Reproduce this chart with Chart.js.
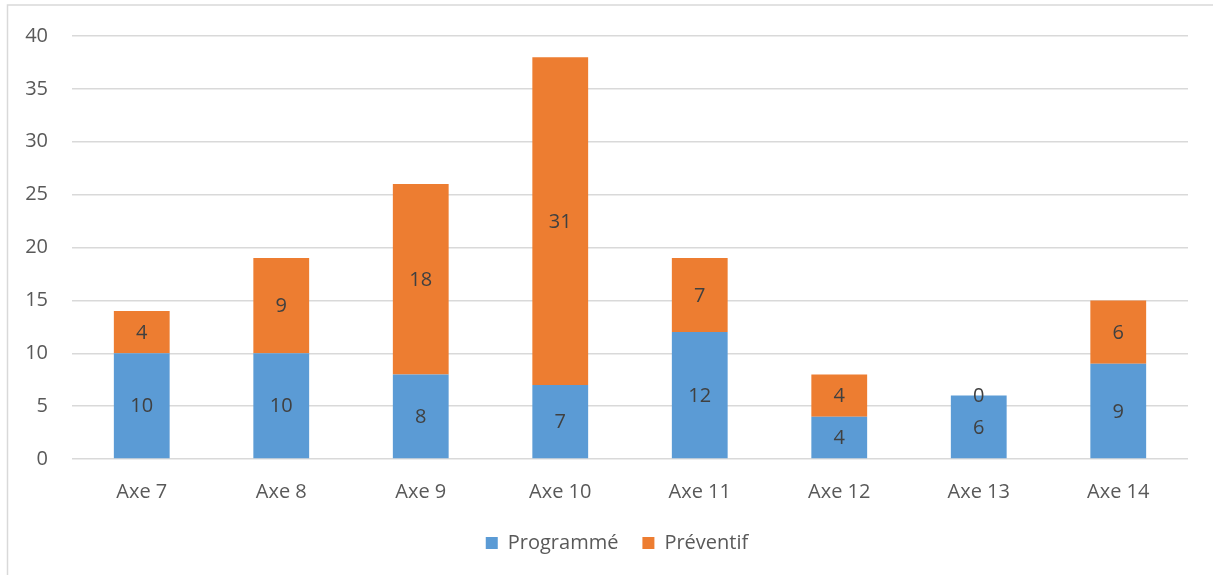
<!DOCTYPE html>
<html>
<head>
<meta charset="utf-8">
<script src="https://cdn.jsdelivr.net/npm/chart.js@4.4.0/dist/chart.umd.min.js"></script>
<style>
  html, body { margin: 0; padding: 0; background: #fff; }
  #wrap { width: 1213px; height: 575px; position: relative; }
</style>
</head>
<body>
<div id="wrap"><canvas id="myChart" width="1213" height="575"></canvas></div>
<script>
var labels = ['Axe 7', 'Axe 8', 'Axe 9', 'Axe 10', 'Axe 11', 'Axe 12', 'Axe 13', 'Axe 14'];
var programme = [10, 10, 8, 7, 12, 4, 6, 9];
var preventif = [4, 9, 18, 31, 7, 4, 0, 6];
var yTicks = [0, 5, 10, 15, 20, 25, 30, 35, 40];

var FONT = '"Open Sans", "Noto Sans", sans-serif';

// light grey frame around the whole chart
var framePlugin = {
  id: 'frame',
  beforeDraw: function(chart) {
    var c = chart.ctx;
    c.save();
    c.strokeStyle = '#d9d9d9';
    c.lineWidth = 1.5;
    c.strokeRect(7.5, 5, chart.width + 20, chart.height + 20);
    c.restore();
  }
};

// center the legend on the full canvas rather than the padded area
var legendShift = {
  id: 'legendShift',
  afterLayout: function(chart) {
    chart.legend.left += 23;
    chart.legend.right += 23;
  }
};

// value written in the middle of each stacked segment
var valueLabels = {
  id: 'valueLabels',
  afterDatasetsDraw: function(chart) {
    var c = chart.ctx;
    c.save();
    c.font = '20px ' + FONT;
    c.fillStyle = '#404040';
    c.textAlign = 'center';
    c.textBaseline = 'middle';
    chart.data.datasets.forEach(function(ds, i) {
      var meta = chart.getDatasetMeta(i);
      meta.data.forEach(function(bar, j) {
        var p = bar.getProps(['x', 'y', 'base'], true);
        c.fillText(String(ds.data[j]), p.x, (p.y + p.base) / 2 + 1);
      });
    });
    c.restore();
  }
};

var ctx = document.getElementById('myChart').getContext('2d');
var myChart = new Chart(ctx, {
  type: 'bar',
  data: {
    labels: labels,
    datasets: [{
      label: 'Programmé',
      data: programme,
      backgroundColor: '#5b9bd5',
      categoryPercentage: 1,
      barPercentage: 0.4
    },
    {
      label: 'Préventif',
      data: preventif,
      backgroundColor: '#ed7d31',
      categoryPercentage: 1,
      barPercentage: 0.4
    }]
  },
  options: {
    responsive: false,
    animation: false,
    layout: { padding: { top: 26, right: 25, bottom: 12, left: 0 } },
    plugins: {
      tooltip: { enabled: false },
      legend: {
        position: 'bottom',
        labels: {
          font: { family: FONT, size: 20 },
          color: '#595959',
          boxWidth: 12,
          boxHeight: 12,
          padding: 24
        }
      }
    },
    scales: {
      x: {
        stacked: true,
        grid: { display: false },
        border: { display: false },
        ticks: { font: { family: FONT, size: 20 }, color: '#595959', padding: 13 },
        afterFit: function(scale) { scale.height = 50; }
      },
      y: {
        stacked: true,
        min: 0,
        max: 40,
        afterBuildTicks: function(scale) {
          scale.ticks = yTicks.map(function(v) { return { value: v }; });
        },
        grid: { color: '#d9d9d9', lineWidth: 1.5, drawTicks: false },
        border: { display: false },
        ticks: { font: { family: FONT, size: 20 }, color: '#595959', padding: 24 },
        afterFit: function(scale) { scale.width = 72; }
      }
    }
  },
  plugins: [framePlugin, legendShift, valueLabels]
});
</script>
</body>
</html>
